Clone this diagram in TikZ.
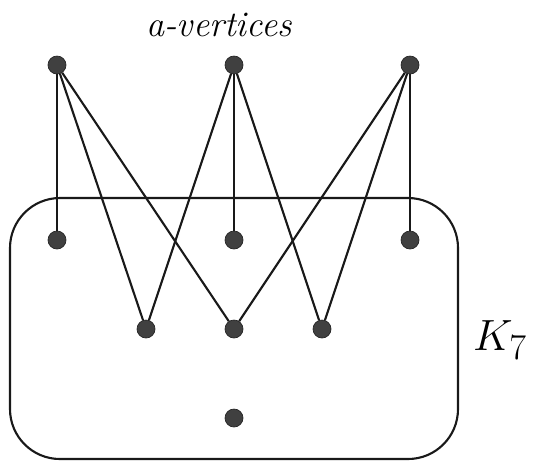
\documentclass[tikz,border=0pt]{standalone}
\usepackage{amsmath,amssymb}
\usepackage{tikz}
\usetikzlibrary{positioning}

\begin{document}
\begin{tikzpicture}[
  x=0.02cm, y=-0.02cm,
  vtx/.style={circle, draw=black!85, fill=black!75, minimum size=3.6mm, inner sep=0pt},
  edge/.style={line width=1.2pt, black!90},
  box/.style={line width=1.2pt, black!90, rounded corners=1cm}]

  \useasboundingbox (0,0) rectangle (560,461);

  % label on top
  \node[font=\fontsize{20.5}{24}\selectfont\itshape] (lab) at (219,25) {a-vertices};

  % the a-vertices
  \node[vtx] (a1) at (57,65) {};
  \node[vtx] (a2) at (234,65) {};
  \node[vtx] (a3) at (410,65) {};

  % the K_7 box
  \draw[box] (10,198) rectangle (458,459);
  \node[font=\Huge] (klab) at (500,340) {$K_7$};

  % vertices of K_7
  \node[vtx] (k1) at (57,240) {};
  \node[vtx] (k2) at (234,240) {};
  \node[vtx] (k3) at (410,240) {};
  \node[vtx] (k4) at (146,329) {};
  \node[vtx] (k5) at (234,329) {};
  \node[vtx] (k6) at (322,329) {};
  \node[vtx] (k7) at (234,418) {};

  % edges from a-vertices into K_7
  \draw[edge] (a1) -- (k1); \draw[edge] (a1) -- (k4); \draw[edge] (a1) -- (k5);
  \draw[edge] (a2) -- (k4); \draw[edge] (a2) -- (k2); \draw[edge] (a2) -- (k6);
  \draw[edge] (a3) -- (k5); \draw[edge] (a3) -- (k6); \draw[edge] (a3) -- (k3);
\end{tikzpicture}
\end{document}
